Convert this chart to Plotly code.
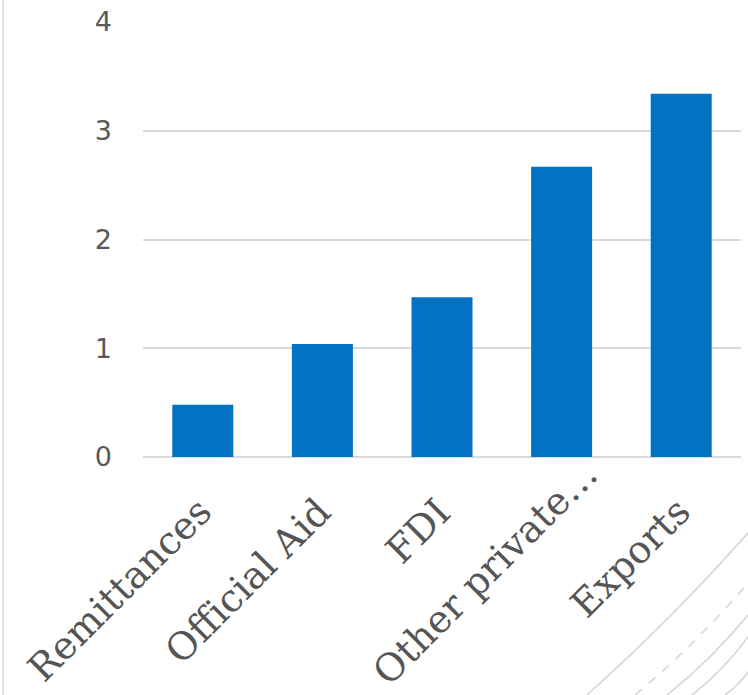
import plotly.graph_objects as go

# Financial flows by source
categories = ["Remittances", "Official Aid", "FDI", "Other private…", "Exports"]
values = [0.48, 1.04, 1.47, 2.67, 3.34]
y_ticks = [0, 1, 2, 3, 4]

W, H = 748, 695
ML, MR, MT, MB = 143, 7, 22, 238
PW, PH = W - ML - MR, H - MT - MB

# pixel nudges for the slanted category labels
label_dx = {"Other private…": 27}
label_dy = {"Other private…": 38}


def px(x, y):
    """Convert page pixels to paper coordinates."""
    return (x - ML) / PW, (H - MB - y) / PH


def curve(p0, c, p2):
    a, b, d = px(*p0), px(*c), px(*p2)
    return f"M {a[0]},{a[1]} Q {b[0]},{b[1]} {d[0]},{d[1]}"


fig = go.Figure(
    go.Bar(
        x=categories,
        y=values,
        marker=dict(color="#0472C4", line=dict(width=0)),
        width=0.51,
    )
)

grey = "#d4d4d4"
shapes = [
    # thin frame line on the left
    dict(type="line", xref="paper", yref="paper",
         x0=px(3, 0)[0], x1=px(3, 0)[0], y0=px(0, 0)[1], y1=px(0, H)[1],
         line=dict(color=grey, width=1.5)),
]
# decorative sweeping arcs in the lower-right corner
arcs = [
    ((587, 695), (672, 619), (748, 533), "solid"),
    ((635, 695), (696, 644), (748, 583), "dash"),
    ((667, 695), (711, 660), (748, 615), "solid"),
    ((692, 695), (723, 671), (748, 637), "solid"),
    ((725, 695), (738, 686), (748, 672), "solid"),
]
for p0, c, p2, dash in arcs:
    shapes.append(dict(type="path", xref="paper", yref="paper",
                       path=curve(p0, c, p2),
                       line=dict(color=grey, width=1.5, dash=dash)))

# slanted category labels under the bars
annotations = []
for i, cat in enumerate(categories):
    annotations.append(dict(
        x=i, xref="x", y=0, yref="y",
        text=cat, showarrow=False, textangle=-45,
        xanchor="right", yanchor="top",
        xshift=20 + label_dx.get(cat, 0),
        yshift=-30 + label_dy.get(cat, 0),
        font=dict(size=38, family="DejaVu Serif", color="#555555"),
    ))

fig.update_layout(
    width=W,
    height=H,
    margin=dict(l=ML, r=MR, t=MT, b=MB, autoexpand=False),
    paper_bgcolor="white",
    plot_bgcolor="white",
    showlegend=False,
    bargap=0.49,
    shapes=shapes,
    annotations=annotations,
    font=dict(family="DejaVu Serif", color="#595959"),
)
fig.update_yaxes(
    range=[0, 4],
    tickvals=y_ticks,
    showgrid=True,
    gridcolor="#d9d9d9",
    gridwidth=1.5,
    zeroline=True,
    zerolinecolor="#d9d9d9",
    zerolinewidth=1.5,
    showline=False,
    ticks="",
    ticklabelstandoff=30,
    tickfont=dict(size=27, family="DejaVu Sans", color="#595959"),
)
fig.update_xaxes(
    type="category",
    range=[-0.5, len(categories) - 0.5],
    showline=False,
    ticks="",
    showticklabels=False,
)

fig.write_html("out.html")
